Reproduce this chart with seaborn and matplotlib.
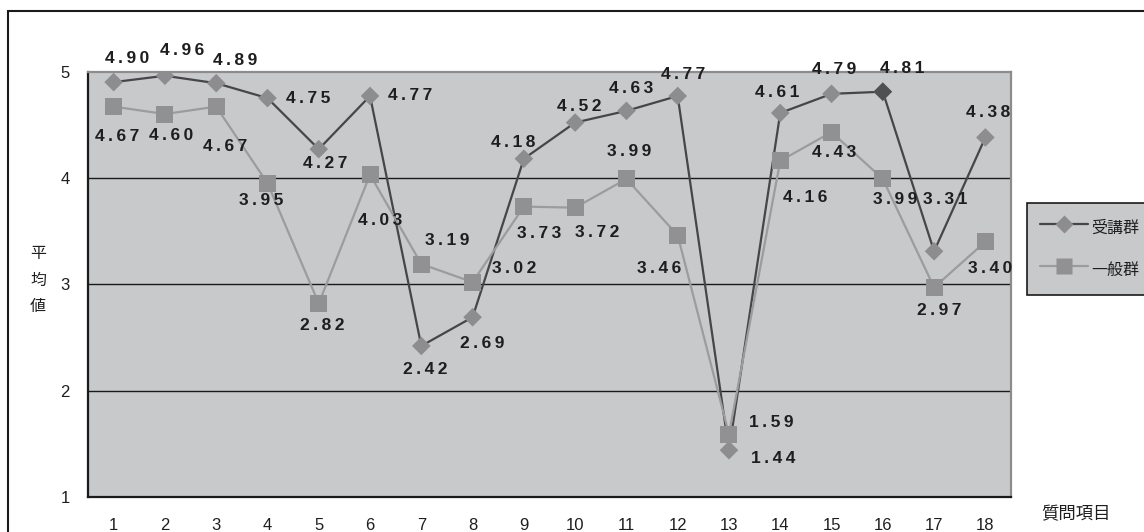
import numpy as np
import pandas as pd
import matplotlib
matplotlib.use("Agg")
import matplotlib.pyplot as plt
from matplotlib.lines import Line2D
from matplotlib.patches import Rectangle
import seaborn as sns

# --- data -------------------------------------------------------------
items = [str(i) for i in range(1, 19)]
series_names = ["受講群", "一般群"]
jukou = [4.90, 4.96, 4.89, 4.75, 4.27, 4.77, 2.42, 2.69, 4.18,
         4.52, 4.63, 4.77, 1.44, 4.61, 4.79, 4.81, 3.31, 4.38]
ippan = [4.67, 4.60, 4.67, 3.95, 2.82, 4.03, 3.19, 3.02, 3.73,
         3.72, 3.99, 3.46, 1.59, 4.16, 4.43, 3.99, 2.97, 3.40]
highlight_item = "16"
y_ticks = [1, 2, 3, 4, 5]

# label offsets in pixels (dx right, dy down) for each value label
off_jukou = [(13, -24), (17, -25), (19, -23), (41, 0), (6, 14), (40, 0),
             (4, 24), (10, 26), (-11, -16), (4, -16), (5, -22), (5, -21),
             (44, 8), (-3, -20), (3, -24), (19, -23), (11, -52), (3, -25)]
off_ippan = [(3, 30), (6, 21), (9, 40), (-6, 17), (4, 22), (10, 46),
             (26, -24), (42, -14), (15, 27), (22, 25), (3, -27), (-19, 33),
             (42, -12), (25, 37), (3, 20), (12, 21), (5, 23), (5, 27)]

df = pd.DataFrame({
    "item": items * 2,
    "pos": list(range(len(items))) * 2,
    "group": [series_names[0]] * len(items) + [series_names[1]] * len(items),
    "value": jukou + ippan,
})

# --- style ------------------------------------------------------------
sns.set_style("white", {"axes.facecolor": "#c8c9cb"})
plt.rcParams["font.family"] = ["Noto Sans CJK JP", "DejaVu Sans"]

line_colors = {"受講群": "#464648", "一般群": "#9c9c9e"}
marker_colors = {"受講群": "#8d8d90", "一般群": "#919194"}
markers = {"受講群": "D", "一般群": "s"}
marker_sizes = {"受講群": 90, "一般群": 150}
txt_color = "#1e1e1e"
num_family = ["Liberation Sans Narrow", "Liberation Sans", "DejaVu Sans"]

fig = plt.figure(figsize=(11.44, 5.32), dpi=100)
ax = fig.add_axes([88 / 1144, 1 - 497 / 532, (1011 - 88) / 1144, (497 - 71.5) / 532])

# grid lines
for y in y_ticks[1:-1]:
    ax.axhline(y, color="#1a1a1a", lw=1.0, zorder=1)

# lines
sns.lineplot(data=df, x="pos", y="value", hue="group", palette=line_colors,
             hue_order=series_names, lw=1.6, legend=False, ax=ax, zorder=2)

# markers
for name in series_names:
    sub = df[df["group"] == name]
    sns.scatterplot(data=sub, x="pos", y="value", marker=markers[name],
                    color=marker_colors[name], s=marker_sizes[name],
                    edgecolor="none", linewidth=0, legend=False, ax=ax, zorder=3)
hl = df[(df["group"] == "受講群") & (df["item"] == highlight_item)]
sns.scatterplot(data=hl, x="pos", y="value", marker="D", color="#505052",
                s=marker_sizes["受講群"], edgecolor="none", linewidth=0,
                legend=False, ax=ax, zorder=4)

# value labels (bold, letter-spaced)
def spaced(v):
    return "\u2009".join(f"{v:.2f}")

for vals, offs in ((jukou, off_jukou), (ippan, off_ippan)):
    for i, (v, (dx, dy)) in enumerate(zip(vals, offs)):
        ax.annotate(spaced(v), (i, v), xytext=(dx, -dy), textcoords="offset pixels",
                    ha="center", va="center", fontsize=12.5, fontweight="bold",
                    family=num_family, color=txt_color, zorder=5,
                    annotation_clip=False)

# axes
ax.set_xlim(-0.5, len(items) - 0.5)
ax.set_ylim(y_ticks[0], y_ticks[-1])
ax.set_xticks(range(len(items)))
ax.set_xticklabels(items)
ax.set_xticks(np.arange(0.5, len(items) - 1, 1.0), minor=True)
ax.set_yticks(y_ticks)
ax.set_yticklabels([str(t) for t in y_ticks])
ax.tick_params(axis="x", which="major", length=0, pad=15, labelsize=12,
               labelcolor=txt_color)
ax.tick_params(axis="x", which="minor", direction="in", length=6, width=1,
               color="#1a1a1a")
ax.tick_params(axis="y", length=0, pad=13, labelsize=12, labelcolor=txt_color)
for lbl in ax.get_xticklabels() + ax.get_yticklabels():
    lbl.set_family(num_family)
ax.set_xlabel("")
ax.set_ylabel("")

for side in ("left", "bottom"):
    ax.spines[side].set_color("#1a1a1a")
    ax.spines[side].set_linewidth(1.6)
for side in ("top", "right"):
    ax.spines[side].set_color("#8c8c8e")
    ax.spines[side].set_linewidth(1.6)
    ax.spines[side].set_visible(True)

# axis titles
fig.text(38 / 1144, 1 - 280 / 532, "平\n均\n値", ha="center", va="center",
         fontsize=11.5, linespacing=1.75, color=txt_color)
fig.text(1076 / 1144, 1 - 514 / 532, "質問項目", ha="center", va="center",
         fontsize=12.5, color=txt_color)

# legend
handles = [Line2D([], [], color=line_colors[n], lw=1.6, marker=markers[n],
                  markerfacecolor=marker_colors[n], markeredgecolor="none",
                  markersize=9 if n == "受講群" else 11)
           for n in series_names]
leg = fig.legend(handles, series_names, loc="upper left",
                 bbox_to_anchor=(1027 / 1144, 1 - 203 / 532),
                 frameon=True, fancybox=False, edgecolor="#1a1a1a",
                 framealpha=1, fontsize=11.5, handlelength=3.0, handleheight=2.0,
                 handletextpad=0.25, labelspacing=1.05, borderpad=0.8,
                 borderaxespad=0)
leg.get_frame().set_linewidth(1.2)
for t in leg.get_texts():
    t.set_color(txt_color)

# outer chart border
fig.patches.append(Rectangle((8 / 1144, -0.2), 1.2, 1.2 - 11 / 532,
                             transform=fig.transFigure, fill=False,
                             edgecolor="#1a1a1a", lw=1.5, zorder=0))

fig.savefig("out.png", dpi=100)
